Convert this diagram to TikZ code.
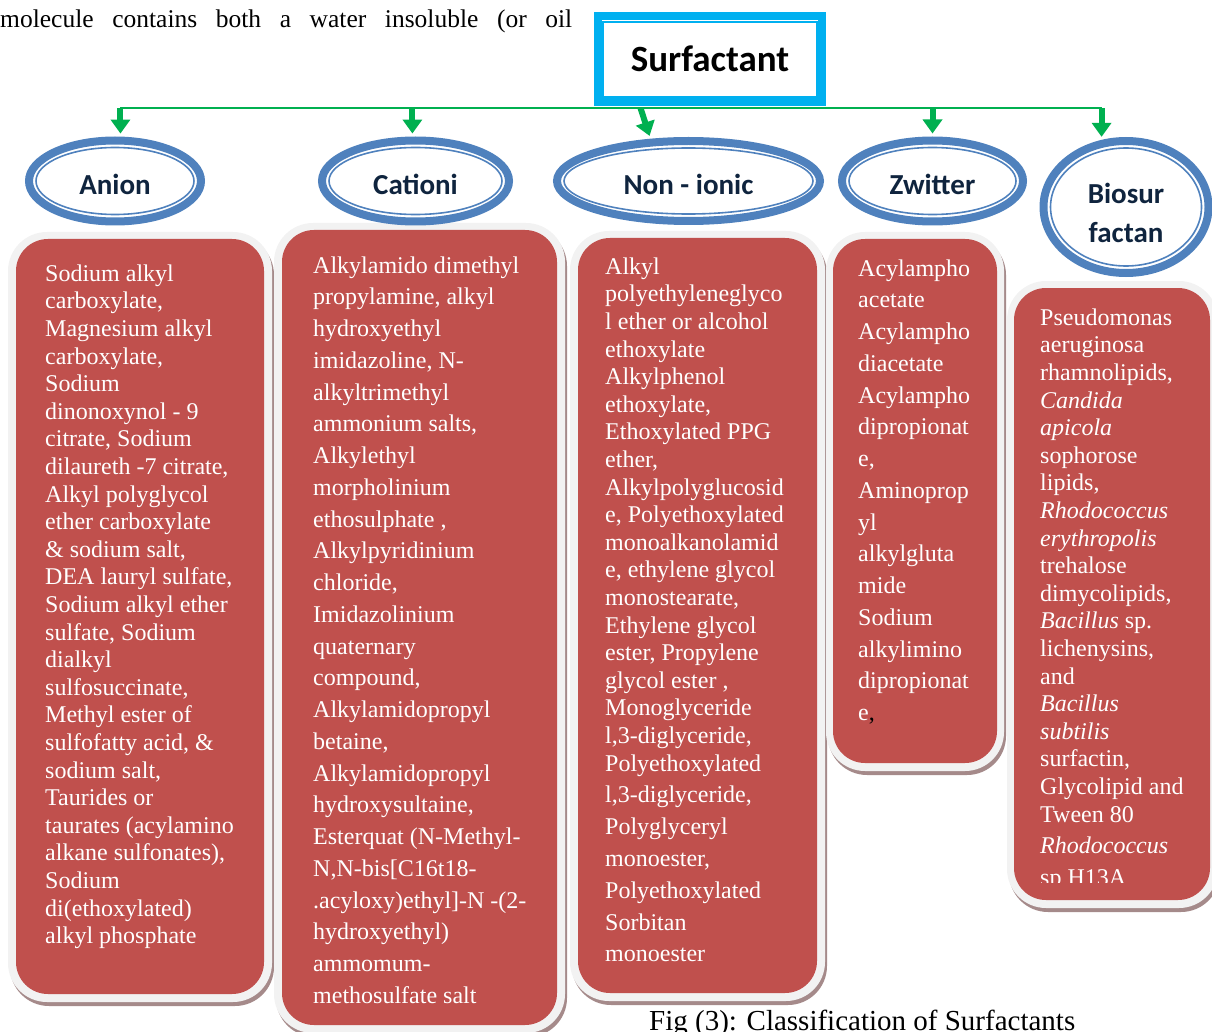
\documentclass[tikz,border=0pt]{standalone}
\usepackage{fontspec}
\setmainfont{Liberation Serif}
\newfontfamily\calibrifont{Carlito}
\usetikzlibrary{shapes.geometric,arrows.meta}

\definecolor{boxred}{HTML}{C0504D}
\definecolor{ringgray}{HTML}{F2F2F2}
\definecolor{shadowred}{HTML}{A58A8A}
\definecolor{hdrblue}{HTML}{4F81BD}
\definecolor{hdrtext}{HTML}{0F243E}
\definecolor{surfcyan}{HTML}{00B0F0}
\definecolor{linkgreen}{HTML}{00B050}

\newcommand{\topstrut}{\rule{0pt}{20pt}}

\tikzset{
  hdr/.style={ellipse, draw=hdrblue, line width=8pt, inner sep=0pt},
  hdrtxt/.style={font=\calibrifont\bfseries\fontsize{29}{39}\selectfont, text=hdrtext, align=center},
  hdrinner/.style={draw=hdrblue, line width=1.6pt},
  shadowbox/.style={fill=shadowred, rounded corners=39pt},
  ringbox/.style={fill=ringgray, rounded corners=39pt},
  redbox/.style={fill=boxred, rounded corners=32pt},
  itemtxt/.style={anchor=north west, inner sep=0pt, align=left, text=white, font=\fontsize{24}{27.6}\selectfont},
  itemtxtloose/.style={itemtxt, font=\fontsize{24}{31.75}\selectfont},
  busline/.style={draw=linkgreen, line width=2.5pt},
  arr/.style={draw=linkgreen, line width=6pt, -{Triangle[width=19pt,length=14pt]}, shorten >=3pt},
}

\begin{document}
\begin{tikzpicture}[x=1pt,y=-1pt]
\useasboundingbox (0,0) rectangle (1212,1032);

\node[anchor=base west, inner sep=0pt, font=\fontsize{25.5}{30}\selectfont] (para) at (0,28) {\makebox[572pt][s]{molecule contains both a water insoluble (or oil}};

\fill[shadowbox] (10,236) rectangle (274,1006);
\fill[ringbox] (8,232) rectangle (272,1002);
\fill[redbox] (16,239) rectangle (264,994);

\fill[shadowbox] (276,227) rectangle (567,1037);
\fill[ringbox] (274,223) rectangle (565,1033);
\fill[redbox] (282,230) rectangle (557,1025);

\fill[shadowbox] (572,235) rectangle (827,1005);
\fill[ringbox] (570,231) rectangle (825,1001);
\fill[redbox] (578,238) rectangle (817,993);

\fill[shadowbox] (828,236) rectangle (1006,775);
\fill[ringbox] (826,232) rectangle (1004,771);
\fill[redbox] (833,239) rectangle (997,763);

\fill[shadowbox] (1009,285) rectangle (1220,912);
\fill[ringbox] (1007,281) rectangle (1218,908);
\fill[redbox] (1014,288) rectangle (1210,900);

\node[itemtxt] (anionlist) at (45,261) {\topstrut Sodium alkyl\\ carboxylate,\\ Magnesium alkyl\\ carboxylate,\\ Sodium\\ dinonoxynol - 9\\ citrate, Sodium\\ dilaureth -7 citrate,\\ Alkyl polyglycol\\ ether carboxylate\\ \& sodium salt,\\ DEA lauryl sulfate,\\ Sodium alkyl ether\\ sulfate, Sodium\\ dialkyl\\ sulfosuccinate,\\ Methyl ester of\\ sulfofatty acid, \&\\ sodium salt,\\ Taurides or\\ taurates (acylamino\\ alkane sulfonates),\\ Sodium\\ di(ethoxylated)\\ alkyl phosphate};

\node[itemtxtloose] (cationlist) at (313,253) {\topstrut Alkylamido dimethyl\\ propylamine, alkyl\\ hydroxyethyl\\ imidazoline, N-\\ alkyltrimethyl\\ ammonium salts,\\ Alkylethyl\\ morpholinium\\ ethosulphate ,\\ Alkylpyridinium\\ chloride,\\ Imidazolinium\\ quaternary\\ compound,\\ Alkylamidopropyl\\ betaine,\\ Alkylamidopropyl\\ hydroxysultaine,\\ Esterquat (N-Methyl-\\ N,N-bis[C16t18-\\ .acyloxy)ethyl]-N -(2-\\ hydroxyethyl)\\ ammomum-\\ methosulfate salt};

\node[itemtxt] (nonionlist) at (605,254) {\topstrut Alkyl\\ polyethyleneglyco\\ l ether or alcohol\\ ethoxylate\\ Alkylphenol\\ ethoxylate,\\ Ethoxylated PPG\\ ether,\\ Alkylpolyglucosid\\ e, Polyethoxylated\\ monoalkanolamid\\ e, ethylene glycol\\ monostearate,\\ Ethylene glycol\\ ester, Propylene\\ glycol ester ,\\ Monoglyceride\\ l,3-diglyceride,\\ Polyethoxylated\\[4.2pt] l,3-diglyceride,\\[4.2pt] Polyglyceryl\\[4.2pt] monoester,\\[4.2pt] Polyethoxylated\\[4.2pt] Sorbitan\\[4.2pt] monoester};

\node[itemtxtloose] (zwitlist) at (858,256) {\topstrut Acylampho\\ acetate\\ Acylampho\\ diacetate\\ Acylampho\\ dipropionat\\ e,\\ Aminoprop\\ yl\\ alkylgluta\\ mide\\ Sodium\\ alkylimino\\ dipropionat\\ e{\color{black},}};

\begin{scope}
\clip (1007,281) rectangle (1212,882);
\node[itemtxt] (biolist) at (1040,305) {\topstrut Pseudomonas\\ aeruginosa\\ rhamnolipids,\\ \textit{Candida}\\ \textit{apicola}\\ sophorose\\ lipids,\\ \textit{Rhodococcus}\\ \textit{erythropolis}\\ trehalose\\ dimycolipids,\\ \textit{Bacillus} sp.\\ lichenysins,\\ and\\ \textit{Bacillus}\\ \textit{subtilis}\\ surfactin,\\ Glycolipid and\\ Tween 80\\[4pt] \textit{Rhodococcus}\\[4pt] sp H13A};
\end{scope}

\node[hdr, minimum width=172pt, minimum height=81pt, label={[hdrtxt,yshift=-3.5pt]center:Anion}] (anion) at (115,181) {};
\draw[hdrinner] (anion.center) ellipse [x radius=79pt, y radius=33.5pt];
\node[hdr, minimum width=187pt, minimum height=81pt, label={[hdrtxt,yshift=-3.5pt]center:Cationi}] (cation) at (415.5,181) {};
\draw[hdrinner] (cation.center) ellipse [x radius=86.5pt, y radius=33.5pt];
\node[hdr, minimum width=263pt, minimum height=80pt, label={[hdrtxt,yshift=-3.5pt]center:Non - ionic}] (nonion) at (688.5,181) {};
\draw[hdrinner] (nonion.center) ellipse [x radius=124.5pt, y radius=33pt];
\node[hdr, minimum width=181pt, minimum height=81pt, label={[hdrtxt,yshift=-3.5pt]center:Zwitter}] (zwit) at (932.5,181) {};
\draw[hdrinner] (zwit.center) ellipse [x radius=83.5pt, y radius=33.5pt];
\node[hdr, minimum width=165pt, minimum height=132pt, label={[hdrtxt,yshift=-6pt]center:Biosur\\factan}] (bio) at (1126,207) {};
\draw[hdrinner] (bio.center) ellipse [x radius=75.5pt, y radius=59pt];

\node[draw=surfcyan, line width=8pt, minimum width=224pt, minimum height=86pt, inner sep=0pt, font=\calibrifont\bfseries\fontsize{37}{40}\selectfont] (surf) at (710,59) {Surfactant};
\draw[draw=surfcyan, line width=1.6pt] (603,22) rectangle (817,97);

\coordinate (bus) at (710,108);
\coordinate (nitop) at ([xshift=-10pt]nonion.132);
\draw[busline] (anion.83 |- bus) -- (bio.110 |- bus);
\draw[arr] (anion.83 |- bus) -- (anion.83);
\draw[arr] (cation.94 |- bus) -- (cation.94);
\draw[arr] (nitop |- bus) -- (nonion.132);
\draw[arr] (zwit.north |- bus) -- (zwit.north);
\draw[arr] (bio.110 |- bus) -- (bio.110);

\node[anchor=base west, inner sep=0pt, font=\fontsize{29}{34}\selectfont] (caption) at (649,1030) {Fig (3): Classification of Surfactants};
\end{tikzpicture}
\end{document}
